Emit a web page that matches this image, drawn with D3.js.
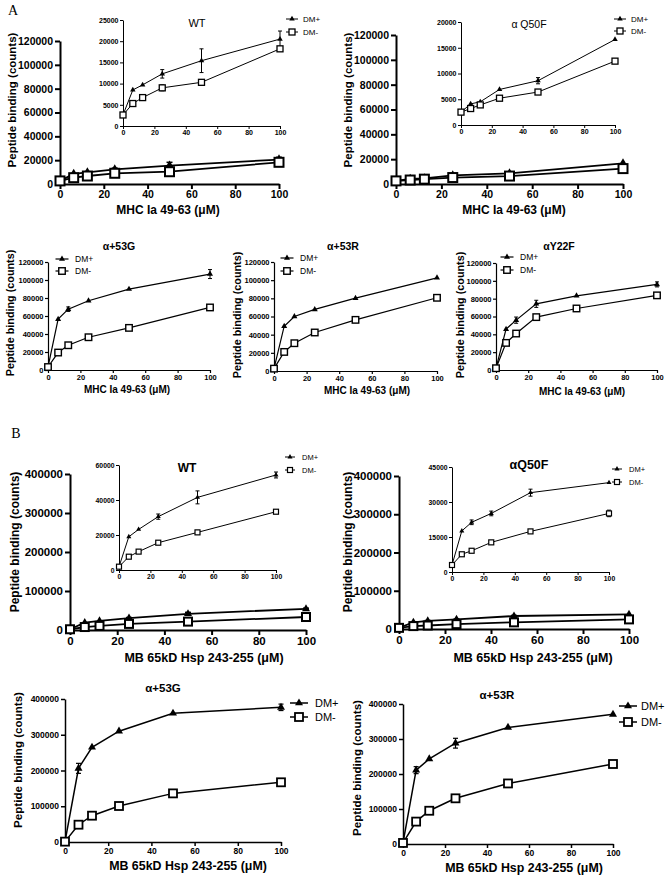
<!DOCTYPE html>
<html><head><meta charset="utf-8">
<script src="https://cdn.jsdelivr.net/npm/d3@7"></script>
<style>body{margin:0;background:#fff;} svg{display:block;background:#fff;}</style>
</head><body>
<svg id="c" width="672" height="879"></svg>
<script>
// ---------- DATA ----------
const conc = [0, 6.25, 12.5, 25, 50, 100];
const xTicks = [0, 20, 40, 60, 80, 100];
const seriesNames = ["DM+", "DM-"];

const yTicksA = [0, 20000, 40000, 60000, 80000, 100000, 120000];
const yTicksAwtIn = [0, 5000, 10000, 15000, 20000, 25000];
const yTicksAq50In = [0, 5000, 10000, 15000, 20000];
const yTicksB = [0, 100000, 200000, 300000, 400000];
const yTicksBwtIn = [0, 20000, 40000, 60000];
const yTicksBq50In = [0, 15000, 30000, 45000];

// A: MHC Ia 49-63
const aWT_plus = [2600, 8500, 9700, 12300, 15400, 20500];
const aWT_plusErr = [0, 0, 0, 1000, 2800, 1900];
const aWT_minus = [2600, 5300, 6700, 9000, 10300, 18200];
const aWT_minusErr = [0, 0, 300, 700, 0, 0];

const aQ50_plus = [2500, 4100, 4500, 6900, 8600, 16600];
const aQ50_plusErr = [0, 0, 0, 0, 600, 0];
const aQ50_minus = [2500, 3200, 3900, 5200, 6400, 12400];
const aQ50_minusErr = [0, 0, 0, 0, 0, 0];

const a53G_plus = [3300, 56500, 67600, 76900, 89900, 106600];
const a53G_plusErr = [0, 0, 2500, 0, 0, 5000];
const a53G_minus = [3300, 19400, 27500, 36400, 46800, 69500];
const a53G_minusErr = [0, 0, 0, 0, 0, 0];

const a53R_plus = [2600, 49300, 60000, 67800, 80200, 102600];
const a53R_plusErr = [0, 0, 0, 0, 0, 0];
const a53R_minus = [2600, 21000, 30600, 42400, 56300, 80600];
const a53R_minusErr = [0, 0, 0, 0, 0, 0];

const aY22_plus = [2000, 45800, 55900, 74200, 83200, 96000];
const aY22_plusErr = [0, 0, 3500, 4000, 0, 2800];
const aY22_minus = [2000, 30400, 40900, 59300, 69000, 83700];
const aY22_minusErr = [0, 0, 0, 0, 0, 0];

// B: MB 65kD Hsp 243-255
const bWT_plus = [1900, 19000, 23200, 30500, 41500, 54300];
const bWT_plusErr = [0, 0, 0, 1500, 3700, 1700];
const bWT_minus = [1900, 7600, 10500, 15600, 21500, 33300];
const bWT_minusErr = [0, 0, 0, 0, 0, 0];

const bQ50_plus = [3000, 17600, 21300, 25100, 34000, 38300];
const bQ50_plusErr = [0, 0, 1000, 1000, 1500, 0];
const bQ50_minus = [3000, 7600, 9100, 12700, 17400, 25100];
const bQ50_minusErr = [0, 0, 0, 0, 0, 1400];

const b53G_plus = [1000, 206000, 265000, 310000, 360000, 376700];
const b53G_plusErr = [0, 14000, 0, 0, 0, 9000];
const b53G_minus = [1000, 48400, 73600, 100700, 136000, 167000];
const b53G_minusErr = [0, 0, 0, 0, 0, 10000];

const b53R_plus = [3000, 211000, 243000, 288000, 333000, 370500];
const b53R_plusErr = [0, 10000, 0, 14000, 0, 0];
const b53R_minus = [3000, 64000, 95000, 130500, 173000, 228600];
const b53R_minusErr = [0, 0, 0, 0, 0, 0];

// ---------- STYLES ----------
const FONT = "Arial, 'Liberation Sans', sans-serif";
const S_bigA = {tickFs:10.5, tick:5, pad:2, axisW:2, lineW:1.8, sq:9, sqW:2, tri:9, cap:6, errW:1.5};
const S_inA  = {tickFs:7, tick:3, pad:1.5, axisW:1, lineW:1, sq:6, sqW:1.3, tri:5.5, cap:4, errW:1};
const S_mid  = {tickFs:7.5, tick:3, pad:1.5, axisW:1.2, lineW:1.2, sq:6.5, sqW:1.4, tri:6, cap:4, errW:1};
const S_bigB = {tickFs:11.5, tick:5, pad:2, axisW:2, lineW:1.8, sq:8, sqW:2, tri:8, cap:6, errW:1.5};
const S_inB  = {tickFs:6.8, tick:3, pad:1.5, axisW:1, lineW:1, sq:5, sqW:1.2, tri:5, cap:4, errW:1};
const S_bot  = {tickFs:8.5, tick:4, pad:2, axisW:1.5, lineW:1.5, sq:8, sqW:1.8, tri:8, cap:5, errW:1.2};

const svg = d3.select("#c");

function triPath(s) {
  const h = s * Math.sqrt(3) / 2;
  return `M0,${-2*h/3}L${s/2},${h/3}L${-s/2},${h/3}Z`;
}

function drawMarker(g, kind, cx, cy, S) {
  if (kind === 0) {
    g.append("path").attr("d", triPath(S.tri)).attr("transform", `translate(${cx},${cy})`).attr("fill", "#000");
  } else {
    g.append("rect").attr("x", cx - S.sq/2).attr("y", cy - S.sq/2).attr("width", S.sq).attr("height", S.sq)
      .attr("fill", "#fff").attr("stroke", "#000").attr("stroke-width", S.sqW);
  }
}

function drawPanel(P) {
  const S = P.S;
  const g = svg.append("g");
  const x = d3.scaleLinear().domain([0, 100]).range([P.x0, P.x1]);
  const y = d3.scaleLinear().domain([0, P.yMax]).range([P.y0, P.y1]);
  const fmt = d3.format("d");
  const ya = g.append("g").attr("transform", `translate(${P.x0},0)`)
    .call(d3.axisLeft(y).tickValues(P.yTicks).tickFormat(fmt).tickSize(S.tick).tickSizeOuter(0).tickPadding(S.pad));
  const xa = g.append("g").attr("transform", `translate(0,${P.y0})`)
    .call(d3.axisBottom(x).tickValues(xTicks).tickFormat(fmt).tickSize(S.tick).tickSizeOuter(0).tickPadding(S.pad));
  [ya, xa].forEach(a => {
    a.select(".domain").attr("stroke", "#000").attr("stroke-width", S.axisW);
    a.selectAll(".tick line").attr("stroke", "#000").attr("stroke-width", S.axisW);
    a.selectAll("text").attr("font-family", FONT).attr("font-size", S.tickFs)
      .attr("font-weight", "bold").attr("fill", "#000");
  });

  const line = d3.line().x((d, i) => x(conc[i])).y(d => y(d));
  const sers = [[P.plus, P.plusErr], [P.minus, P.minusErr]];
  // lines
  sers.forEach(([v]) => {
    g.append("path").attr("d", line(v)).attr("fill", "none").attr("stroke", "#000").attr("stroke-width", S.lineW);
  });
  // error bars
  sers.forEach(([v, e]) => {
    v.forEach((val, i) => {
      if (!e[i]) return;
      const cx = x(conc[i]), t = y(val + e[i]), b = y(val - e[i]);
      g.append("line").attr("x1", cx).attr("x2", cx).attr("y1", t).attr("y2", b).attr("stroke", "#000").attr("stroke-width", S.errW);
      [t, b].forEach(yy => g.append("line").attr("x1", cx - S.cap/2).attr("x2", cx + S.cap/2)
        .attr("y1", yy).attr("y2", yy).attr("stroke", "#000").attr("stroke-width", S.errW));
    });
  });
  // markers
  sers.forEach(([v], k) => {
    v.forEach((val, i) => drawMarker(g, k, x(conc[i]), y(val), S));
  });

  // legend
  if (P.leg) {
    const L = P.leg;
    seriesNames.forEach((nm, k) => {
      const ly = L.ys[k];
      g.append("line").attr("x1", L.cx - L.len/2).attr("x2", L.cx + L.len/2).attr("y1", ly).attr("y2", ly)
        .attr("stroke", "#000").attr("stroke-width", S.lineW);
      drawMarker(g, k, L.cx, ly, S);
      g.append("text").attr("x", L.tx).attr("y", ly).attr("dominant-baseline", "central")
        .attr("font-family", FONT).attr("font-size", L.fs).attr("fill", "#000").text(nm);
    });
  }
  // title
  if (P.title) {
    g.append("text").attr("x", P.title.x).attr("y", P.title.y).attr("text-anchor", "middle")
      .attr("dominant-baseline", "central").attr("font-family", FONT).attr("font-size", P.title.fs)
      .attr("font-weight", P.title.bold ? "bold" : "normal").attr("fill", "#000").text(P.title.text);
  }
  if (P.xt) {
    g.append("text").attr("x", P.xt.x).attr("y", P.xt.y).attr("text-anchor", "middle")
      .attr("dominant-baseline", "central").attr("font-family", FONT).attr("font-size", P.xt.fs)
      .attr("font-weight", "bold").attr("fill", "#000").text(P.xt.text);
  }
  if (P.yt) {
    g.append("text").attr("transform", `translate(${P.yt.x},${P.yt.y}) rotate(-90)`).attr("text-anchor", "middle")
      .attr("dominant-baseline", "central").attr("font-family", FONT).attr("font-size", P.yt.fs)
      .attr("font-weight", "bold").attr("fill", "#000").text("Peptide binding (counts)");
  }
}

const xTitleA = "MHC Ia 49-63 (\u03bcM)";
const xTitleB = "MB 65kD Hsp 243-255 (\u03bcM)";

// ---------- PANEL A ----------
drawPanel({S:S_bigA, x0:60, x1:279, y0:184, y1:41, yMax:120000, yTicks:yTicksA,
  plus:aWT_plus, plusErr:aWT_plusErr, minus:aWT_minus, minusErr:aWT_minusErr,
  xt:{x:168, y:210, fs:12, text:xTitleA}, yt:{x:12, y:100, fs:11.5}});
drawPanel({S:S_inA, x0:123, x1:280, y0:126, y1:20, yMax:25000, yTicks:yTicksAwtIn,
  plus:aWT_plus, plusErr:aWT_plusErr, minus:aWT_minus, minusErr:aWT_minusErr,
  title:{x:197, y:23, fs:11, text:"WT"}, leg:{cx:292, len:12, tx:303, ys:[19, 32], fs:8}});

drawPanel({S:S_bigA, x0:396, x1:623, y0:184, y1:35, yMax:120000, yTicks:yTicksA,
  plus:aQ50_plus, plusErr:aQ50_plusErr, minus:aQ50_minus, minusErr:aQ50_minusErr,
  xt:{x:514, y:210, fs:12, text:xTitleA}, yt:{x:348, y:100, fs:11.5}});
drawPanel({S:S_inA, x0:461, x1:615, y0:125, y1:22, yMax:20000, yTicks:yTicksAq50In,
  plus:aQ50_plus, plusErr:aQ50_plusErr, minus:aQ50_minus, minusErr:aQ50_minusErr,
  title:{x:529, y:24, fs:10.5, text:"\u03b1 Q50F"}, leg:{cx:620, len:12, tx:631, ys:[19, 31], fs:8}});

drawPanel({S:S_mid, x0:48, x1:210, y0:370, y1:262, yMax:120000, yTicks:yTicksA,
  plus:a53G_plus, plusErr:a53G_plusErr, minus:a53G_minus, minusErr:a53G_minusErr,
  title:{x:119, y:246, fs:10.5, bold:true, text:"\u03b1+53G"}, leg:{cx:62, len:13, tx:75, ys:[259, 271], fs:8.5},
  xt:{x:127, y:389, fs:10, text:xTitleA}, yt:{x:10, y:313, fs:10.8}});
drawPanel({S:S_mid, x0:274, x1:437, y0:371, y1:262, yMax:120000, yTicks:yTicksA,
  plus:a53R_plus, plusErr:a53R_plusErr, minus:a53R_minus, minusErr:a53R_minusErr,
  title:{x:343, y:246, fs:10.5, bold:true, text:"\u03b1+53R"}, leg:{cx:287, len:13, tx:300, ys:[258, 271], fs:8.5},
  xt:{x:367, y:390, fs:10, text:xTitleA}, yt:{x:237, y:315, fs:10.8}});
drawPanel({S:S_mid, x0:496, x1:657, y0:370, y1:263, yMax:120000, yTicks:yTicksA,
  plus:aY22_plus, plusErr:aY22_plusErr, minus:aY22_minus, minusErr:aY22_minusErr,
  title:{x:559, y:246, fs:10.5, bold:true, text:"\u03b1Y22F"}, leg:{cx:507, len:13, tx:520, ys:[257, 270], fs:8.5},
  xt:{x:582, y:391, fs:10, text:xTitleA}, yt:{x:460, y:315, fs:10.8}});

// ---------- PANEL B ----------
drawPanel({S:S_bigB, x0:70, x1:306, y0:630, y1:474, yMax:400000, yTicks:yTicksB,
  plus:bWT_plus, plusErr:bWT_plusErr, minus:bWT_minus, minusErr:bWT_minusErr,
  xt:{x:204, y:658, fs:12.5, text:xTitleB}, yt:{x:15, y:542, fs:12}});
drawPanel({S:S_inB, x0:119, x1:276, y0:570, y1:465, yMax:60000, yTicks:yTicksBwtIn,
  plus:bWT_plus, plusErr:bWT_plusErr, minus:bWT_minus, minusErr:bWT_minusErr,
  title:{x:187, y:468, fs:12, bold:true, text:"WT"}, leg:{cx:290, len:10, tx:302, ys:[457, 470], fs:7.5}});

drawPanel({S:S_bigB, x0:399, x1:629, y0:629, y1:476, yMax:400000, yTicks:yTicksB,
  plus:bQ50_plus, plusErr:bQ50_plusErr, minus:bQ50_minus, minusErr:bQ50_minusErr,
  xt:{x:533, y:658, fs:12.5, text:xTitleB}, yt:{x:348, y:542, fs:12}});
drawPanel({S:S_inB, x0:452, x1:609, y0:572, y1:467, yMax:45000, yTicks:yTicksBq50In,
  plus:bQ50_plus, plusErr:bQ50_plusErr, minus:bQ50_minus, minusErr:bQ50_minusErr,
  title:{x:529, y:465, fs:12.5, bold:true, text:"\u03b1Q50F"}, leg:{cx:617, len:10, tx:629, ys:[469, 482], fs:7.5}});

drawPanel({S:S_bot, x0:65, x1:281, y0:842, y1:699, yMax:400000, yTicks:yTicksB,
  plus:b53G_plus, plusErr:b53G_plusErr, minus:b53G_minus, minusErr:b53G_minusErr,
  title:{x:163, y:688, fs:11.5, bold:true, text:"\u03b1+53G"}, leg:{cx:299, len:18, tx:315, ys:[703, 717], fs:11},
  xt:{x:188, y:866, fs:12.4, text:xTitleB}, yt:{x:17, y:760, fs:11.6}});
drawPanel({S:S_bot, x0:403, x1:613, y0:844, y1:704, yMax:400000, yTicks:yTicksB,
  plus:b53R_plus, plusErr:b53R_plusErr, minus:b53R_minus, minusErr:b53R_minusErr,
  title:{x:497, y:695, fs:11.5, bold:true, text:"\u03b1+53R"}, leg:{cx:628, len:18, tx:641, ys:[706, 722], fs:11},
  xt:{x:524, y:868, fs:12.4, text:xTitleB}, yt:{x:356, y:768, fs:11.6}});

// panel letters
svg.append("text").attr("x", 13).attr("y", 10).attr("text-anchor", "middle").attr("dominant-baseline", "central")
  .attr("font-family", "'Liberation Serif', 'Times New Roman', serif").attr("font-size", 14).text("A");
svg.append("text").attr("x", 16).attr("y", 433).attr("text-anchor", "middle").attr("dominant-baseline", "central")
  .attr("font-family", "'Liberation Serif', 'Times New Roman', serif").attr("font-size", 14).text("B");
</script>
</body></html>
